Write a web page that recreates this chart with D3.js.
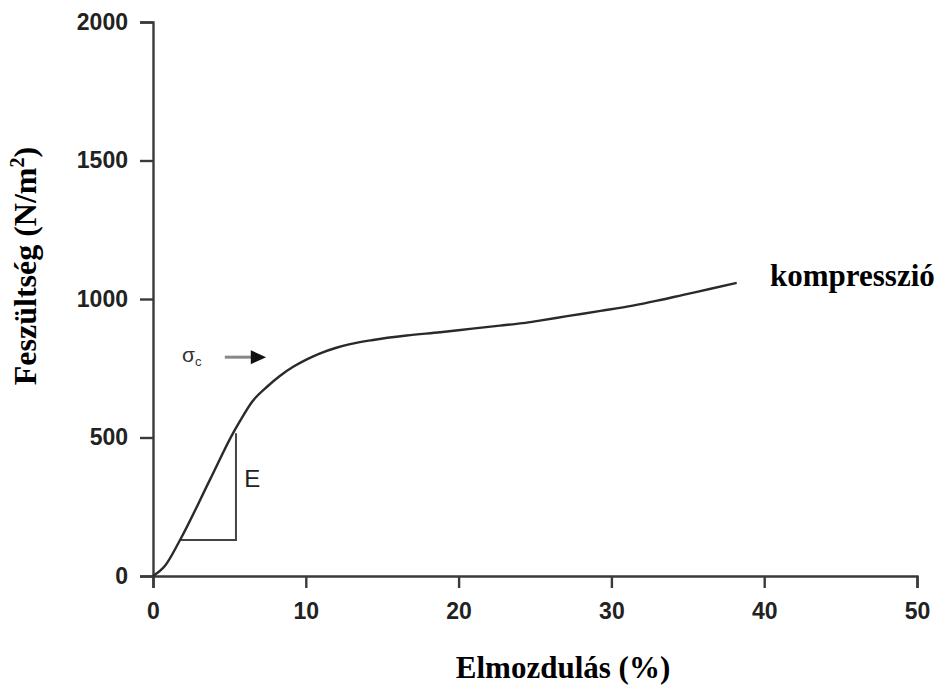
<!DOCTYPE html>
<html><head><meta charset="utf-8">
<script src="https://cdn.jsdelivr.net/npm/d3@7"></script>
<style>body{margin:0;background:#fff}</style>
</head><body><svg id="c" width="943" height="688"></svg>
<script>
const xTicks = [0, 10, 20, 30, 40, 50];
const yTicks = [0, 500, 1000, 1500, 2000];
const strain = [0, 0.8, 1.77, 3.73, 5.24, 5.7, 6.5, 7.5, 8.3, 9.2, 10.1, 10.9, 12.0, 12.9, 14.4, 16.6, 18.8, 20.9, 22.7, 24.2, 25.3, 27.1, 29.3, 31.4, 33.0, 34.7, 36.5, 38.2];
const stress = [0, 38, 130, 348, 516, 560, 630, 685, 722, 756, 783, 803, 824, 837, 852, 868, 880, 893, 904, 913, 922, 938, 957, 976, 994, 1015, 1037, 1058];
const triangle = [[1.77, 130], [5.43, 130], [5.43, 515]];
const labels = {x: "Elmozdulás (%)", y: "Feszültség (N/m", series: "kompresszió", E: "E", sigma: "σ", sigmaSub: "c"};

const svg = d3.select("#c");
const x = d3.scaleLinear().domain([0, 50]).range([153, 917]);
const y = d3.scaleLinear().domain([0, 2000]).range([576, 22]);
const ink = "#2a2a2a";

// axes
const xa = svg.append("g").attr("transform", `translate(0,${y(0)})`)
  .call(d3.axisBottom(x).tickValues(xTicks).tickFormat(d3.format("d"))
    .tickSizeInner(12).tickSizeOuter(12).tickPadding(15));
const ya = svg.append("g").attr("transform", `translate(${x(0)},0)`)
  .call(d3.axisLeft(y).tickValues(yTicks).tickFormat(d3.format("d"))
    .tickSizeInner(13).tickSizeOuter(13).tickPadding(12));
[xa, ya].forEach(a => {
  a.selectAll("path, line").attr("stroke", "#3a3a3a").attr("stroke-width", 2.4);
  a.selectAll("text").attr("font-family", "Liberation Sans, Arial, sans-serif")
    .attr("font-weight", "bold").attr("font-size", 23).attr("fill", "#222");
});

// triangle
svg.append("path").datum(triangle)
  .attr("d", d3.line().x(d => x(d[0])).y(d => y(d[1])))
  .attr("fill", "none").attr("stroke", "#444").attr("stroke-width", 2);

// curve
svg.append("path").datum(strain.map((s, i) => [s, stress[i]]))
  .attr("d", d3.line().x(d => x(d[0])).y(d => y(d[1])).curve(d3.curveMonotoneX))
  .attr("fill", "none").attr("stroke", ink).attr("stroke-width", 2.4);

// E label
svg.append("text").attr("x", x(5.98)).attr("y", y(322))
  .attr("font-family", "Liberation Sans, Arial, sans-serif").attr("font-size", 24)
  .attr("fill", "#222").text(labels.E);

// sigma_c label + arrow
const ay = y(790);
const sg = svg.append("text").attr("x", 182).attr("y", ay + 5)
  .attr("font-family", "Liberation Sans, Arial, sans-serif").attr("font-size", 21).attr("fill", "#333");
sg.append("tspan").text(labels.sigma);
sg.append("tspan").attr("font-size", 13).attr("dy", 4).text(labels.sigmaSub);
svg.append("line").attr("x1", x(4.7)).attr("x2", x(6.6)).attr("y1", ay).attr("y2", ay)
  .attr("stroke", "#888").attr("stroke-width", 3);
svg.append("path").attr("d", d3.line()([[x(6.4), ay - 7], [x(7.4), ay], [x(6.4), ay + 7]]) + "Z")
  .attr("fill", "#111");

// series label
svg.append("text").attr("x", 770).attr("y", 286)
  .attr("font-family", "Liberation Serif, Times New Roman, serif").attr("font-weight", "bold")
  .attr("font-size", 31).attr("fill", "#000").text(labels.series);

// axis titles
svg.append("text").attr("x", 563).attr("y", 678).attr("text-anchor", "middle")
  .attr("font-family", "Liberation Serif, Times New Roman, serif").attr("font-weight", "bold")
  .attr("font-size", 31).attr("fill", "#000").text(labels.x);
const yt = svg.append("text").attr("transform", "translate(36,266) rotate(-90)").attr("text-anchor", "middle")
  .attr("font-family", "Liberation Serif, Times New Roman, serif").attr("font-weight", "bold")
  .attr("font-size", 32).attr("fill", "#000");
yt.append("tspan").text(labels.y);
yt.append("tspan").attr("font-size", 20).attr("dy", -12).text("2");
yt.append("tspan").attr("dy", 12).text(")");
</script></body></html>
